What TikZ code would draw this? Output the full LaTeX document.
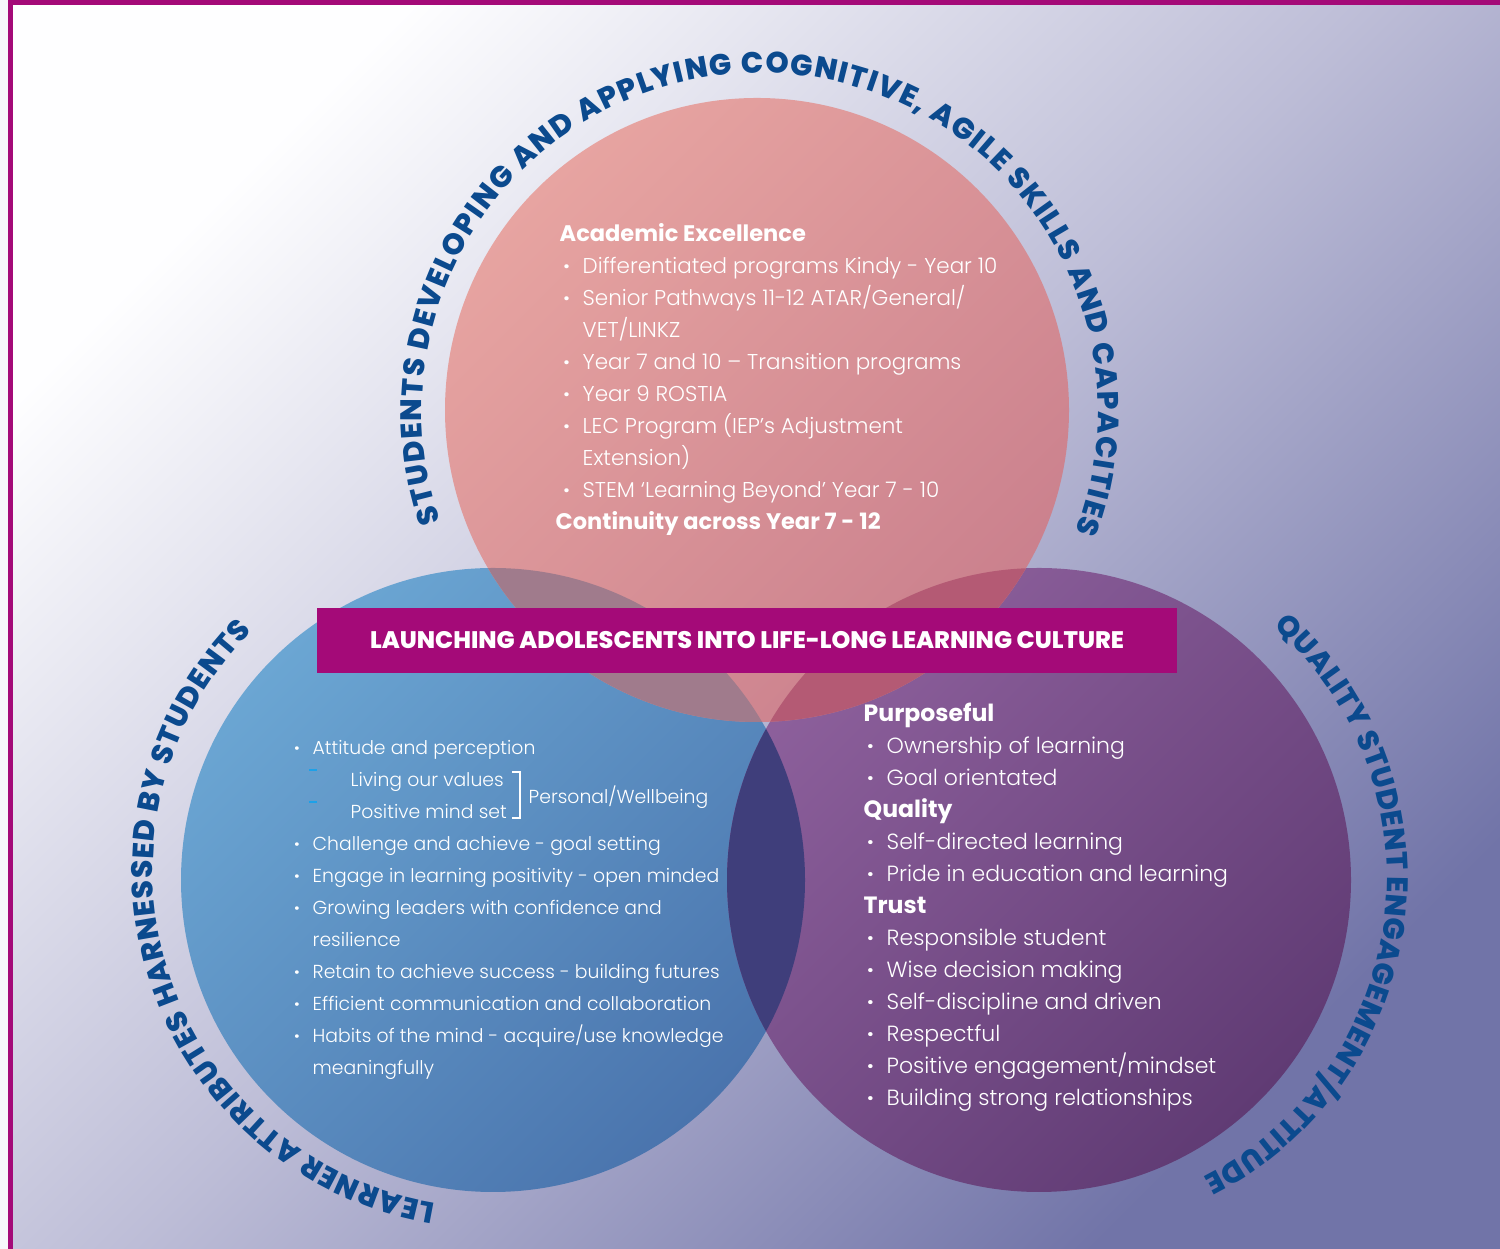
\documentclass[tikz,border=0pt]{standalone}
\usepackage{fontspec}
\setmainfont{Poppins}[UprightFont=* Light, BoldFont=* Bold]
\newfontfamily\heavyfont{Poppins ExtraBold}
\usetikzlibrary{decorations.text}

\definecolor{framemag}{HTML}{A40A78}
\definecolor{arcblue}{HTML}{0B4A8E}
\definecolor{dashcyan}{HTML}{1DA1E8}
\definecolor{outbg}{HTML}{F7F7FB}
\definecolor{bgtl}{HTML}{FEFEFF}
\definecolor{bgmid}{HTML}{BDBDD7}
\definecolor{bgbr}{HTML}{7174A8}
\definecolor{pinktop}{HTML}{E7A4A1}
\definecolor{pinkbot}{HTML}{CA808D}
\definecolor{bluetop}{HTML}{6BA6D3}
\definecolor{bluebot}{HTML}{4A74AD}
\definecolor{purptop}{HTML}{8D609C}
\definecolor{purpbot}{HTML}{603B74}
\definecolor{bpmix}{HTML}{3F3E7B}
\definecolor{tbmix}{HTML}{A07B8C}
\definecolor{tpmix}{HTML}{B45A74}

\newcommand\bul{\llap{\textbf{\textperiodcentered}\hspace{0.13cm}}}
\newcommand\arcfont{\heavyfont\fontsize{8.4}{9}\selectfont}

\tikzset{
 txtline/.style={anchor=base west, inner sep=0pt, text=white},
 topline/.style={txtline, font=\fontsize{6.1}{7}\selectfont},
 leftline/.style={txtline, font=\fontsize{5.35}{7}\selectfont},
 rightline/.style={txtline, font=\fontsize{6.25}{7}\selectfont},
 banner/.style={fill=framemag, minimum width=8.6cm, minimum height=0.65cm, inner sep=0pt,
   text=white, font=\heavyfont\fontsize{6.8}{7}\selectfont},
 arctext/.style={decorate, decoration={text along path, text align=fit to path,
   text color=arcblue, text={#1}}},
 cyandash/.style={dashcyan, line width=0.7pt}
}

\begin{document}
\begin{tikzpicture}[x=0.01cm, y=0.01cm]
 \useasboundingbox (0,0) rectangle (1500,1249);
 \fill[outbg] (0,0) rectangle (1500,1249);
 \shade[top color=bgtl, bottom color=bgbr, middle color=bgmid, shading angle=45] (8,0) rectangle (1500,1249);
 \fill[framemag] (8,1244) rectangle (1500,1249);
 \fill[framemag] (8,0) rectangle (13,1249);

 \coordinate (topc) at (757,839);
 \coordinate (bluec) at (493,369);
 \coordinate (purpc) at (1039,369);

 % the three circles
 \shade[top color=bluetop, bottom color=bluebot, shading angle=45] (bluec) circle[radius=312];
 \shade[top color=purptop, bottom color=purpbot, shading angle=45] (purpc) circle[radius=312];
 \shade[top color=pinktop, bottom color=pinkbot, shading angle=45] (topc) circle[radius=312];
 \begin{scope}
  \clip (bluec) circle[radius=312];
  \fill[bpmix] (purpc) circle[radius=312];
  \fill[tbmix] (topc) circle[radius=312];
 \end{scope}
 \begin{scope}
  \clip (purpc) circle[radius=312];
  \fill[tpmix] (topc) circle[radius=312];
 \end{scope}

 % curved titles
 \path[arctext={|\arcfont|STUDENTS DEVELOPING AND APPLYING COGNITIVE{,} AGILE SKILLS AND CAPACITIES}]
  (topc) ++(3,-1) ++(199:338) arc[start angle=199, end angle=-21, radius=338];
 \path[arctext={|\arcfont|LEARNER ATTRIBUTES HARNESSED BY STUDENTS}]
  (bluec) ++(-2,10) ++(260.5:338) arc[start angle=260.5, end angle=135, radius=338];
 \path[arctext={|\arcfont|QUALITY STUDENT ENGAGEMENT/ATTITUDE}]
  (purpc) ++(12,2) ++(48.5:336) arc[start angle=48.5, end angle=-63, radius=336];

 \node[banner] (launch) at (747,608.5) {LAUNCHING ADOLESCENTS INTO LIFE-LONG LEARNING CULTURE};

 % top circle
 \foreach \x/\t [count=\i] in {559/{\bfseries\fontsize{6.4}{7}\selectfont Academic Excellence},
   582/{\bul Differentiated programs Kindy - Year 10},
   582/{\bul Senior Pathways 11-12 ATAR/General/},
   582/{VET/LINKZ},
   582/{\bul Year 7 and 10 -- Transition programs},
   582/{\bul Year 9 ROSTIA},
   582/{\bul LEC Program (IEP’s Adjustment},
   582/{Extension)},
   582/{\bul STEM ‘Learning Beyond’ Year 7 - 10},
   555/{\bfseries\fontsize{6.4}{7}\selectfont Continuity across Year 7 - 12}}
  \node[topline] (acad\i) at (\x, {1040-32.1*\i}) {\t};

 % left circle
 \foreach \x/\t [count=\i] in {312/{\bul Attitude and perception},
   350/{Living our values},
   350/{Positive mind set},
   312/{\bul Challenge and achieve - goal setting},
   312/{\bul Engage in learning positivity - open minded},
   312/{\bul Growing leaders with confidence and},
   312/{resilience},
   312/{\bul Retain to achieve success - building futures},
   312/{\bul Efficient communication and collaboration},
   312/{\bul Habits of the mind - acquire/use knowledge},
   312/{meaningfully}}
  \node[leftline] (attr\i) at (\x, {526-32*\i}) {\t};
 \node[leftline] (wellb) at (528,445) {Personal/Wellbeing};
 \draw[white, line width=0.4pt] (512,477) -- (520,477) -- (520,431) -- (512,431);
 \draw[cyandash] (309,479) -- (317,479);
 \draw[cyandash] (309,447) -- (317,447);

 % right circle
 \foreach \x/\t [count=\i] in {863/{\bfseries\fontsize{6.7}{7}\selectfont Purposeful},
   886/{\bul Ownership of learning},
   886/{\bul Goal orientated},
   863/{\bfseries\fontsize{6.7}{7}\selectfont Quality},
   886/{\bul Self-directed learning},
   886/{\bul Pride in education and learning},
   863/{\bfseries\fontsize{6.7}{7}\selectfont Trust},
   886/{\bul Responsible student},
   886/{\bul Wise decision making},
   886/{\bul Self-discipline and driven},
   886/{\bul Respectful},
   886/{\bul Positive engagement/mindset},
   886/{\bul Building strong relationships}}
  \node[rightline] (qual\i) at (\x, {559-32*\i}) {\t};
\end{tikzpicture}
\end{document}
